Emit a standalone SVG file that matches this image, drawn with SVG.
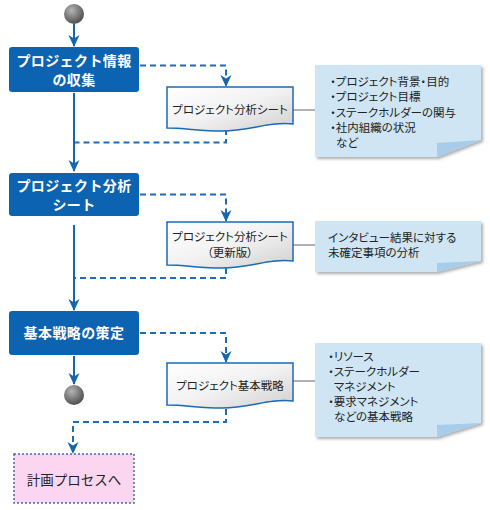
<svg xmlns="http://www.w3.org/2000/svg" width="490" height="510" viewBox="0 0 490 510">
<style>
.box{fill:#0b63b2;}
.bt{font-family:"Noto Sans CJK JP","Noto Sans",sans-serif;font-size:14px;letter-spacing:0.4px;font-weight:bold;fill:#fff;text-anchor:middle;}
.dt{font-family:"Noto Sans CJK JP","Noto Sans",sans-serif;font-size:11.5px;fill:#222;text-anchor:middle;font-feature-settings:"palt";}
.nt{font-family:"Noto Sans CJK JP","Noto Sans",sans-serif;font-size:11.5px;fill:#222;font-feature-settings:"palt";}
.doc{fill:url(#dg);stroke:#1a6ab6;stroke-width:1.5;}
.note{fill:#cfe5f3;filter:url(#sh);}
.fold{fill:#a7cdea;}
.solid{fill:none;stroke:#1565b0;stroke-width:2;}
.dash{fill:none;stroke:#1e6cb4;stroke-width:2;stroke-dasharray:6 4;}
.link{fill:none;stroke:#999;stroke-width:1.5;}
</style>
<defs>
<linearGradient id="dg" x1="0" y1="0" x2="1" y2="1">
<stop offset="0" stop-color="#ffffff"/>
<stop offset="0.5" stop-color="#f2f2f2"/>
<stop offset="1" stop-color="#cfcfcf"/>
</linearGradient>
<radialGradient id="cg" cx="0.38" cy="0.32" r="0.7">
<stop offset="0" stop-color="#b5b5b5"/>
<stop offset="1" stop-color="#4d4d4d"/>
</radialGradient>
<filter id="sh" x="-10%" y="-10%" width="125%" height="130%">
<feDropShadow dx="2" dy="2" stdDeviation="1.5" flood-color="#777" flood-opacity="0.6"/>
</filter>
<marker id="ah" markerUnits="userSpaceOnUse" markerWidth="12" markerHeight="12" viewBox="0 0 12 12" refX="11" refY="6" orient="auto">
<path d="M0,0.5 L12,6 L0,11.5 L3.5,6 Z" fill="#1565b0"/>
</marker>
</defs>

<g id="connectors">
<path class="solid" d="M74,24 V46" marker-end="url(#ah)"/>
<path class="solid" d="M74,93 V171" marker-end="url(#ah)"/>
<path class="solid" d="M74,225 V310" marker-end="url(#ah)"/>
<path class="solid" d="M74,356 V384" marker-end="url(#ah)"/>
<path class="dash" d="M140,65.5 H226 V86" marker-end="url(#ah)"/>
<path class="dash" d="M226,129 V142.5 H75"/>
<path class="dash" d="M140,194.5 H226 V221" marker-end="url(#ah)"/>
<path class="dash" d="M226,268 V278 H75"/>
<path class="dash" d="M140,333 H226 V362" marker-end="url(#ah)"/>
<path class="dash" d="M226,409 V422 H73 V453" marker-end="url(#ah)"/>
<path class="link" d="M293,110 H315"/>
<path class="link" d="M293,245 H315"/>
<path class="link" d="M293,381 H315"/>
</g>

<g id="start"><circle cx="74" cy="14" r="10" fill="url(#cg)"/></g>

<g id="step1">
<rect class="box" x="9" y="47" width="130" height="45" rx="3"/>
<text class="bt" x="74" y="66">プロジェクト情報</text>
<text class="bt" x="74" y="84.8">の収集</text>
</g>

<g id="doc1">
<path class="doc" d="M167,87 H293 V124 C270,121 250,131 222,131 C200,131 185,128 167,128 Z"/>
<text class="dt" x="230" y="114">プロジェクト分析シート</text>
</g>

<g id="note1">
<path class="note" d="M315,65 H481 V140 L437,157 H315 Z"/>
<path class="fold" d="M437,157 L437,143 L481,140 Z"/>
<text class="nt" x="330" y="86">・プロジェクト背景・目的</text>
<text class="nt" x="330" y="101">・プロジェクト目標</text>
<text class="nt" x="330" y="117">・ステークホルダーの関与</text>
<text class="nt" x="330" y="132">・社内組織の状況</text>
<text class="nt" x="336" y="147">など</text>
</g>

<g id="step2">
<rect class="box" x="9" y="173" width="130" height="43" rx="3"/>
<text class="bt" x="74" y="191">プロジェクト分析</text>
<text class="bt" x="74" y="209.8">シート</text>
</g>

<g id="doc2">
<path class="doc" d="M167,222 H293 V261 C270,258 250,268 222,268 C200,268 185,265 167,265 Z"/>
<text class="dt" x="230" y="241">プロジェクト分析シート</text>
<text class="dt" x="230" y="257">（更新版）</text>
</g>

<g id="note2">
<path class="note" d="M315,221 H481 V261 L437,272 H315 Z"/>
<path class="fold" d="M437,272 L437,263 L481,261 Z"/>
<text class="nt" x="328" y="242">インタビュー結果に対する</text>
<text class="nt" x="328" y="257">未確定事項の分析</text>
</g>

<g id="step3">
<rect class="box" x="9" y="311" width="130" height="44" rx="3"/>
<text class="bt" x="74" y="338">基本戦略の策定</text>
</g>

<g id="doc3">
<path class="doc" d="M167,363 H293 V401 C270,398 250,408 222,408 C200,408 185,405 167,405 Z"/>
<text class="dt" x="230" y="390">プロジェクト基本戦略</text>
</g>

<g id="note3">
<path class="note" d="M315,343 H481 V423 L437,437 H315 Z"/>
<path class="fold" d="M437,437 L437,425 L481,423 Z"/>
<text class="nt" x="328" y="361">・リソース</text>
<text class="nt" x="328" y="376">・ステークホルダー</text>
<text class="nt" x="334" y="391">マネジメント</text>
<text class="nt" x="328" y="406">・要求マネジメント</text>
<text class="nt" x="334" y="421">などの基本戦略</text>
</g>

<g id="end"><circle cx="74" cy="395" r="10" fill="url(#cg)"/></g>

<g id="next">
<rect x="14" y="454" width="120" height="49" fill="#fcd6f1" stroke="#3d6eae" stroke-width="1.5" stroke-dasharray="2 2"/>
<text x="74" y="485" font-family="'Noto Sans CJK JP','Noto Sans',sans-serif" font-size="13.5" fill="#222" text-anchor="middle">計画プロセスへ</text>
</g>
</svg>
